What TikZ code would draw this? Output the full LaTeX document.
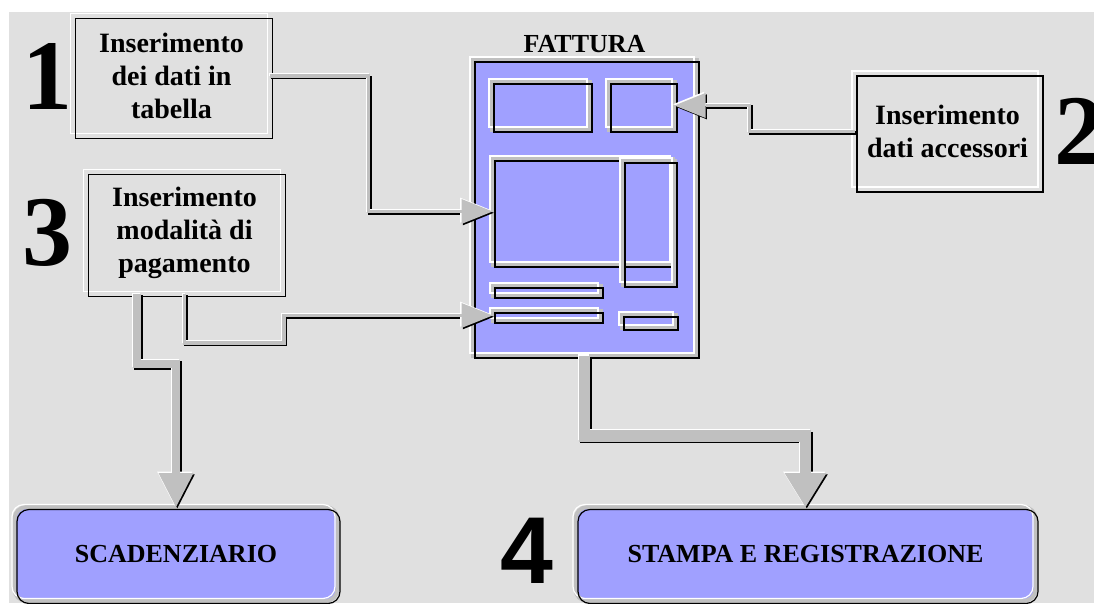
\documentclass[tikz,border=0pt]{standalone}
\usepackage{fontspec}
\setmainfont{Liberation Serif}
\setsansfont{Liberation Sans}
\usepackage{tikz}
\usetikzlibrary{arrows.meta}
\usetikzlibrary{positioning}

\definecolor{bggrey}{HTML}{E0E0E0}
\definecolor{pipegrey}{HTML}{C0C0C0}
\definecolor{docblue}{HTML}{A0A0FF}

\tikzset{
ridge/.style={draw=#1,line width=4pt,
 postaction={draw=white,line width=1.2pt,transform canvas={shift={(-2.5pt,2.5pt)}}},
 postaction={draw=black,line width=1.2pt,transform canvas={shift={(2.5pt,-2.5pt)}}}},
databox/.style={rectangle,inner sep=0pt,outer sep=0pt,fill=bggrey,ridge=bggrey,align=center,font=\fontsize{28}{33}\selectfont\bfseries},
panel/.style={rectangle,inner sep=0pt,outer sep=0pt,ridge=pipegrey},
outbox/.style={rectangle,rounded corners=12pt,inner sep=0pt,outer sep=0pt,fill=docblue,ridge=pipegrey,font=\fontsize{26}{26}\selectfont\bfseries},
bignum/.style={inner sep=0pt,font=\fontsize{100}{100}\selectfont\bfseries},
pipe/.style n args={3}{
 preaction={draw=black,line width=#1,transform canvas={shift={(1.3pt,-1.3pt)}},-{Triangle[length=#2,width=#3,line width=0pt]}},
 preaction={draw=white,line width=#1,transform canvas={shift={(-1.3pt,1.3pt)}},-{Triangle[length=#2,width=#3,line width=0pt]}},
 draw=pipegrey,line width=#1,-{Triangle[length=#2,width=#3,line width=0pt]}}
}

\begin{document}
\begin{tikzpicture}[x=1pt,y=-1pt]
\useasboundingbox (0,0) rectangle (1094,603);
\fill[bggrey] (9,12) rectangle (1094,603);

% fattura
\node[panel,fill=docblue,minimum width=224pt,minimum height=296pt] (doc) at (584.5,207.5) {};
\node[panel,minimum width=98pt,minimum height=48pt] (tl) at (540.5,105.5) {};
\node[panel,minimum width=66pt,minimum height=48pt] (tr) at (641.5,105.5) {};
\node[panel,minimum width=180pt,minimum height=106pt] (big) at (582.5,211.5) {};
\node[panel,minimum width=52pt,minimum height=124pt] (col) at (648.5,222.5) {};
\node[panel,minimum width=108pt,minimum height=10pt] (strip1) at (546.5,290.5) {};
\node[panel,minimum width=108pt,minimum height=10pt] (strip2) at (546.5,315.5) {};
\node[panel,minimum width=54pt,minimum height=13pt] (small) at (648.5,321) {};
\node[font=\fontsize{26}{26}\selectfont\bfseries,inner sep=0pt,above=7pt of doc] (title) {FATTURA};

% inserimenti
\node[databox,minimum width=197pt,minimum height=120pt] (box1) at (171.5,76) {Inserimento\\dei dati in\\tabella};
\node[databox,minimum width=186pt,minimum height=116pt] (box2) at (947.5,131.5) {Inserimento\\dati accessori};
\node[databox,minimum width=197pt,minimum height=122pt] (box3) at (184.5,233) {Inserimento\\modalità di\\pagamento};

\node[bignum,left=0pt of box1] (num1) {1};
\node[bignum,right=14pt of box2] (num2) {2};
\node[bignum,left=13pt of box3] (num3) {3};

% uscite
\node[outbox,minimum width=323pt,minimum height=94pt] (scad) at (176,554) {SCADENZIARIO};
\node[outbox,minimum width=460pt,minimum height=94pt] (stampa) at (805.5,554) {STAMPA E REGISTRAZIONE};
\node[bignum,font=\fontsize{95}{95}\selectfont\sffamily\bfseries,left=22pt of stampa,yshift=3pt] (num4) {4};

% collegamenti
\draw[pipe={3.4pt}{31pt}{25pt}] (box1.east) -| ([xshift=-124pt]big.west) -- (big.west);
\draw[pipe={3.4pt}{31pt}{25pt}] (box2.west) -| ([xshift=75pt]tr.east) -- (tr.east);
\draw[pipe={3.4pt}{31pt}{25pt}] (box3.south) -- ++(0,49) -| ([xshift=-208.5pt]strip2.west) -- (strip2.west);
\draw[pipe={8.4pt}{34pt}{35pt}] ([xshift=-47.5pt]box3.south) |- ([yshift=143pt]scad.north) -- (scad.north);
\draw[pipe={11.4pt}{34pt}{42pt}] (doc.south) |- ([yshift=71pt]stampa.north) -- (stampa.north);

\end{tikzpicture}
\end{document}
